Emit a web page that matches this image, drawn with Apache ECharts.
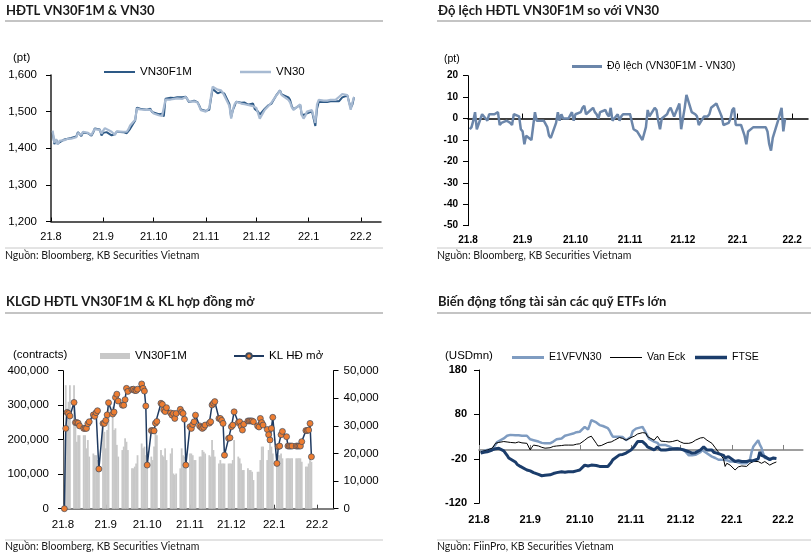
<!DOCTYPE html>
<html><head><meta charset="utf-8">
<script src="https://cdn.jsdelivr.net/npm/echarts@6/dist/echarts.min.js"></script>
<style>html,body{margin:0;padding:0;background:#fff}#c{width:811px;height:555px}</style>
</head><body><div id="c"></div>
<script>
// ---- axis tick labels ----
const monthStarts = ['2021-08-01','2021-09-01','2021-10-01','2021-11-01','2021-12-01','2022-01-01','2022-02-01'];
const monthLabels = ['21.8','21.9','21.10','21.11','21.12','22.1','22.2'];

// ---- values (one per trading day, 2 Aug 2021 .. 28 Jan 2022) ----
const vn30 = [
 1448,1415,1425,1410,1420, 1422,1426,1426,1428,1426, 1430,1442,1438,1436,1445, 1442,1440,1436,1445,1452, 1450,1440,
 1448,1455,1452, 1445,1440,1436,1446,1448, 1445,1440,1445,1452,1462, 1478,1508,1507,1506,1505, 1505,1508,1505,1500,
 1495, 1490,1492,1488,1485,1533, 1533,1530,1535,1533,1536, 1535,1537,1540,1540,1527, 1528,1526,1525,1515,1504,
 1500,1502,1510,1540,1568, 1560,1562,1558,1552,1548, 1515,1481,1505,1520,1527, 1522,1525,1520,1522,1518, 1515,1512,
 1510,1495,1481, 1505,1510,1515,1520,1525, 1545,1550,1557,1545,1540, 1532,1525,1512,1505,1510, 1520,1490,1481,1488,1500,
 1504,1500,1469,1520,1532, 1530,1532,1530,1531,1532, 1532,1535,1540,1545,1548, 1545,1540,1505,1525,1540];
const vn30f1m = [
 1443,1411,1424,1413,1415, 1424,1428,1426,1427,1428, 1432,1444,1441,1433,1443, 1441,1439,1434,1442,1454, 1451,1435,
 1442,1443,1444, 1435,1430,1439,1445,1447, 1444,1439,1441,1444,1453, 1476,1511,1506,1508,1505, 1505,1508,1508,1499,
 1497, 1493,1497,1494,1487,1535, 1538,1533,1537,1533,1539, 1539,1539,1541,1545,1526, 1530,1525,1526,1517,1506,
 1502,1504,1505,1535,1562, 1550,1552,1554,1556,1549, 1520,1485,1504,1515,1527, 1524,1529,1525,1525,1519, 1522,1507,
 1510,1500,1492, 1508,1513,1517,1521,1522, 1546,1551,1558,1547,1545, 1539,1532,1515,1506,1507, 1518,1490,1485,1493,1497,
 1501,1497,1461,1508,1526, 1526,1528,1526,1527,1528, 1528,1529,1528,1530,1539, 1544,1539,1510,1519,1540];
const basis = [
 -5,-4,-1,3,-5, 2,2,0,-1,2, 2,2,3,-3,-2, -1,-1,-2,-3,2, 1,-5,
 -6,-12,-8, -10,-10,3,-1,-1, -1,-1,-4,-8,-9, -2,3,-1,2,0, 0,0,3,-1,
 2, 3,5,6,2,2, 5,3,2,0,3, 4,2,1,5,-1, 2,-1,1,2,2,
 2,2,-5,-5,-6, -10,-10,-4,4,1, 5,4,-1,-5,0, 2,4,5,3,1, 7,-5,
 0,5,11, 3,3,2,1,-3, 1,1,1,2,5, 7,7,3,1,-3, -2,0,4,5,-3,
 -3,-3,-8,-12,-6, -4,-4,-4,-4,-4, -4,-6,-12,-15,-9, -1,-1,5,-6,0];
const volume = [
 200000,358000,290000,310000,358000, 358000,257000,194000,213000,213000, 213000,213000,175000,199000,151000, 160000,155000,155000,141000,131000, 238000,223000,
 175000,228000,296000, 296000,228000,233000,185000,151000, 170000,180000,204000,194000,170000, 117000,117000,122000,131000,155000, 189000,175000,180000,155000,
 165000, 151000,141000,180000,223000,213000, 170000,155000,151000,175000,141000, 160000,175000,102000,98000,102000, 117000,175000,155000,151000,151000,
 160000,160000,155000,141000,141000, 151000,151000,170000,165000,160000, 155000,151000,199000,170000,151000, 131000,141000,131000,131000,131000, 131000,131000,
 131000,141000,199000, 151000,146000,131000,112000,112000, 117000,112000,112000,107000,83000, 107000,107000,141000,180000,180000, 141000,170000,189000,180000,160000,
 155000,155000,155000,160000,146000, 146000,146000,146000,146000,146000, 146000,146000,146000,146000,136000, 122000,122000,131000,146000,136000];
const openInterest = [
 0,29100,34900,34500,33600, 38500,31200,31200,31000,30000, 29100,29100,29100,30800,31500, 34000,33500,34800,35500,14400, 30900,30900,
 32000,34000,38400, 34300,35000,40300,41500,39000, 37500,37500,39500,43600,42500, 43200,43300,42800,42800,43300, 45200,43600,42600,37200,
 15800, 28300,28300,28200,31000,31600, 38200,37800,35800,35200,36600, 34700,33900,34500,32700,34500, 36000,35000,34500,32400,15800,
 29700,29100,30500,31500,33900, 30000,29500,29100,29500,30300, 31000,31500,37600,38200,38800, 32700,32700,32000,30900,19400, 25500,25700,
 29700,30300,35100, 31200,31500,29900,28500,30600, 31800,31800,31800,31800,31500, 30000,29600,32700,31200,30300, 28700,26800,24900,29100,33100,
 16400,22500,22700,26800,28000, 26100,22700,22700,22700,22700, 22700,22700,22700,22700,24300, 28300,28300,28500,30900,18800];
const e1vfvn30 = [
 -4,-4,-2,-4,0, 2,6,12,18,22, 26,30,32,34,34, 33,32,33,32,32, 32,28,
 24,22,22, 19,18,16,15,15, 15,17,19,20,24, 26,30,32,34,34, 37,38,40,41,
 41, 52,48,46,56,67, 62,58,56,56,54, 49,44,36,30,30, 30,30,29,27,22,
 30,42,46,48,49, 52,45,42,32,25, 19,20,16,11,8, 11,9,8,5,4, 4,3,
 2,1,0, -12,-15,-12,-10,-11, -5,0,-3,-5,-8, -15,-19,-18,-20,-22, -22,-22,-23,-25,-26,
 -26,-24,-28,-30,-30, -30,-30,-22,-5,7, 22,12,5,-8,-18, -19,-19,-18,-19,-19];
const vanEck = [
 -4,-3,-2,0,0, 4,9,15,16,17, 19,19,18,17,17, 16,15,18,19,16, 15,12,
 0,6,11, 9,7,6,5,4, 5,6,8,8,9, 10,11,11,12,11, 11,12,13,14,
 14, 22,24,28,30,31, 15,9,8,10,12, 17,16,18,20,22, 28,27,26,24,22,
 28,30,31,33,36, 39,42,38,30,26, 22,24,31,28,20, 19,20,18,20,19, 22,20,
 18,16,15, 15,16,17,20,22, 27,26,28,30,22, 15,12,5,0,-5, -20,-37,-30,-32,-34,
 -45,-42,-38,-37,-36, -37,-34,-30,-26,-26, -26,-28,-30,-28,-26, -34,-32,-30,-28,-27];
const ftse = [
 -7,-8,-5,-6,-4, 0,2,3,4,4, -2,-7,-12,-18,-22, -27,-32,-35,-37,-37, -45,-46,
 -47,-49,-51, -55,-57,-58,-58,-57, -56,-54,-53,-52,-51, -49,-49,-50,-49,-49, -49,-48,-47,-45,
 -45, -34,-35,-36,-34,-34, -35,-36,-37,-37,-37, -37,-33,-28,-22,-20, -11,-12,-10,-8,-7,
 0,4,8,12,19, 19,18,12,7,5, 0,2,7,4,0, 0,0,1,3,2, 3,4,
 2,1,0, -4,-5,-7,-8,-6, 0,3,7,5,0, 0,-5,-8,-7,-8, -12,-18,-22,-15,-12,
 -26,-26,-24,-20,-26, -26,-26,-24,-26,-24, -20,-4,-12,-15,-15, -22,-20,-18,-19,-19];

// ---- date helpers (axes) ----
function dayList(from, to){
  const out=[]; let t=Date.parse(from+'T00:00:00Z'); const e=Date.parse(to+'T00:00:00Z');
  while(t<=e){ out.push(new Date(t).toISOString().slice(0,10)); t+=86400000; }
  return out;
}
const tradingDays = dayList('2021-08-02','2022-01-28').filter(s=>{const w=new Date(s+'T00:00:00Z').getUTCDay();return w!==0&&w!==6;});
const days13 = dayList('2021-08-01','2022-02-13');
const days10 = dayList('2021-08-01','2022-02-10');
const pairs = arr => tradingDays.map((d,i)=>[d, arr[i]]);
const isMonth = (i, v) => monthStarts.indexOf(v) >= 0;
const fmtMonth = v => { const k = monthStarts.indexOf(v); return k >= 0 ? monthLabels[k] : ''; };
const comma = v => v.toLocaleString('en-US');

const NUM = 'Liberation Sans';
const TXT = 'Lato';

function catAxis(grid, data, o){
  return Object.assign({
    type:'category', gridIndex:grid, data:data, boundaryGap:false, position:'bottom',
    axisLine:{show:true, onZero:false, lineStyle:{color:'#000', width:1}},
    axisTick:{show:true, inside:true, interval:isMonth, length:4, lineStyle:{color:'#000'}},
    axisLabel:{show:true, interval:isMonth, formatter:fmtMonth, color:'#000', fontFamily:NUM, fontSize:11, margin:10},
    splitLine:{show:false}
  }, o);
}
function valAxis(grid, min, max, step, o){
  return Object.assign({
    type:'value', gridIndex:grid, min:min, max:max, interval:step,
    axisLine:{show:true, lineStyle:{color:'#000', width:1}},
    axisTick:{show:true, length:5, lineStyle:{color:'#000'}},
    axisLabel:{color:'#000', fontFamily:NUM, fontSize:11, margin:8},
    splitLine:{show:false}
  }, o);
}
function leg(left, top, name, w, h, size, extra){
  return Object.assign({left:left, top:top, itemWidth:w, itemHeight:h, icon:'rect', selectedMode:false,
    textStyle:{fontFamily:NUM, fontSize:size, color:'#000'}, data:[name]}, extra||{});
}

const T = (x,y,text,font,fill)=>({type:'text', x:x, y:y, style:{text:text, font:font, fill:fill||'#000', textVerticalAlign:'middle', verticalAlign:'middle'}});
const L = (x1,y1,x2,y2,w,c)=>({type:'line', shape:{x1:x1,y1:y1,x2:x2,y2:y2}, style:{stroke:c, lineWidth:w}});

const chart = echarts.init(document.getElementById('c'), null, {renderer:'canvas'});
chart.setOption({
  animation:false,
  backgroundColor:'#fff',
  grid:[
    {left:51, top:75, width:330, height:146.5},
    {left:468, top:75.7, width:340, height:150},
    {left:63, top:370.7, width:270.5, height:138},
    {left:479, top:370, width:323.8, height:133.3}
  ],
  xAxis:[
    catAxis(0, days13, {axisLine:{show:true, onZero:false, lineStyle:{color:'#222', width:1.5}}}),
    catAxis(1, days10, {axisLine:{show:true, onZero:true, lineStyle:{color:'#000', width:1.5}},
      axisTick:{show:true, inside:true, interval:isMonth, length:5, lineStyle:{color:'#000'}}, axisLabel:{show:false}}),
    catAxis(1, days10, {axisLine:{show:false, onZero:false}, axisTick:{show:false},
      axisLabel:{show:true, interval:isMonth, formatter:fmtMonth, color:'#000', fontFamily:NUM, fontSize:10, fontWeight:'bold', margin:10}}),
    catAxis(2, days13, {axisLine:{show:true, onZero:false, lineStyle:{color:'#7f7f7f', width:2}},
      axisTick:{show:true, inside:true, interval:isMonth, length:4, lineStyle:{color:'#404040'}},
      axisLabel:{show:true, interval:isMonth, formatter:fmtMonth, color:'#000', fontFamily:NUM, fontSize:11.5, margin:10}}),
    catAxis(3, days13, {axisLine:{show:true, onZero:true, lineStyle:{color:'#7f7f7f', width:1.5}},
      axisTick:{show:true, inside:true, interval:isMonth, length:5, lineStyle:{color:'#7f7f7f'}}, axisLabel:{show:false}}),
    catAxis(3, days13, {axisLine:{show:false, onZero:false}, axisTick:{show:false},
      axisLabel:{show:true, interval:isMonth, formatter:fmtMonth, color:'#000', fontFamily:NUM, fontSize:11, fontWeight:'bold', margin:11}})
  ],
  yAxis:[
    valAxis(0, 1200, 1600, 100, {axisLine:{show:true, lineStyle:{color:'#222', width:1.5}},
      axisLabel:{color:'#000', fontFamily:NUM, fontSize:11.5, margin:14, formatter:comma}}),
    valAxis(1, -50, 20, 10, {axisLabel:{color:'#000', fontFamily:NUM, fontSize:10, fontWeight:'bold', margin:10}}),
    valAxis(2, 0, 400000, 100000, {axisLabel:{color:'#000', fontFamily:NUM, fontSize:11.5, margin:14, formatter:comma}}),
    valAxis(2, 0, 50000, 10000, {position:'right', axisLabel:{color:'#000', fontFamily:NUM, fontSize:11.5, margin:10, formatter:comma}}),
    valAxis(3, -120, 180, 100, {axisLabel:{color:'#000', fontFamily:NUM, fontSize:11, fontWeight:'bold', margin:12}})
  ],
  legend:[
    leg(99, 61, 'VN30F1M', 31, 2, 11.5),
    leg(235, 61, 'VN30', 31, 2.5, 11.5),
    leg(567, 56, 'Độ lệch (VN30F1M - VN30)', 30, 3, 10.5),
    leg(95, 345, 'KLGD VN30F1M', 30, 6, 11.5, {formatter:n=>n.replace('KLGD ','')}),
    leg(228, 345, 'KL HĐ mở', 30, 7, 11.5, {icon:null}),
    leg(507, 347, 'E1VFVN30', 32, 3, 10.5),
    leg(605, 347, 'Van Eck', 32, 1, 10.5),
    leg(690, 347, 'FTSE', 32, 3.5, 10.5)
  ],
  series:[
    {type:'line', name:'VN30F1M', xAxisIndex:0, yAxisIndex:0, data:pairs(vn30f1m), symbol:'none',
     lineStyle:{color:'#2d5986', width:2}, itemStyle:{color:'#2d5986'}, z:2},
    {type:'line', name:'VN30', xAxisIndex:0, yAxisIndex:0, data:pairs(vn30), symbol:'none',
     lineStyle:{color:'#a7bad2', width:2.2}, itemStyle:{color:'#a7bad2'}, z:3},
    {type:'line', name:'Độ lệch (VN30F1M - VN30)', xAxisIndex:1, yAxisIndex:1, data:pairs(basis), symbol:'none',
     lineStyle:{color:'#6b86aa', width:2.5}, itemStyle:{color:'#6b86aa'}},
    {type:'bar', name:'KLGD VN30F1M', xAxisIndex:3, yAxisIndex:2, data:pairs(volume), barWidth:1.8,
     itemStyle:{color:'#c8c8c8'}, z:1},
    {type:'line', name:'KL HĐ mở', xAxisIndex:3, yAxisIndex:3, data:pairs(openInterest), symbol:'circle', symbolSize:6,
     showSymbol:true, showAllSymbol:true,
     lineStyle:{color:'#1f3a60', width:1.5}, itemStyle:{color:'#ed7d31', borderColor:'#3d4b5e', borderWidth:0.7}, z:4},
    {type:'line', name:'E1VFVN30', xAxisIndex:4, yAxisIndex:4, data:pairs(e1vfvn30), symbol:'none',
     lineStyle:{color:'#7f9cc1', width:2.5}, itemStyle:{color:'#7f9cc1'}, z:2},
    {type:'line', name:'Van Eck', xAxisIndex:4, yAxisIndex:4, data:pairs(vanEck), symbol:'none',
     lineStyle:{color:'#000', width:1}, itemStyle:{color:'#000'}, z:3},
    {type:'line', name:'FTSE', xAxisIndex:4, yAxisIndex:4, data:pairs(ftse), symbol:'none',
     lineStyle:{color:'#1b3d6b', width:3}, itemStyle:{color:'#1b3d6b'}, z:4}
  ],
  graphic:[
    T(6,11,'HĐTL VN30F1M & VN30','bold 13px '+TXT,'#1a1a1a'),
    T(438,11,'Độ lệch HĐTL VN30F1M so với VN30','bold 13px '+TXT,'#1a1a1a'),
    T(6,302,'KLGD HĐTL VN30F1M & KL hợp đồng mở','bold 13px '+TXT,'#1a1a1a'),
    T(438,302,'Biến động tổng tài sản các quỹ ETFs lớn','bold 13px '+TXT,'#1a1a1a'),
    L(5,21,383,21,2,'#c4c4c4'), L(437,21,811,21,2,'#c4c4c4'),
    L(5,313,383,313,2,'#c4c4c4'), L(437,313,811,313,2,'#c4c4c4'),
    L(5,248,383,248,1,'#c8c8c8'), L(437,248,811,248,1,'#c8c8c8'),
    L(5,540,383,540,1,'#c8c8c8'), L(437,540,811,540,1,'#c8c8c8'),
    T(5,256,'Nguồn: Bloomberg, KB Securities Vietnam','10.5px '+TXT,'#1a1a1a'),
    T(437,256,'Nguồn: Bloomberg, KB Securities Vietnam','10.5px '+TXT,'#1a1a1a'),
    T(5,547,'Nguồn: Bloomberg, KB Securities Vietnam','10.5px '+TXT,'#1a1a1a'),
    T(437,547,'Nguồn: FiinPro, KB Securities Vietnam','10.5px '+TXT,'#1a1a1a'),
    T(13,58,'(pt)','11.5px '+NUM), T(444,59,'(pt)','10.5px '+NUM),
    T(13,355,'(contracts)','11.5px '+NUM), T(445,356,'(USDmn)','11.5px '+NUM)
  ]
});
</script></body></html>
